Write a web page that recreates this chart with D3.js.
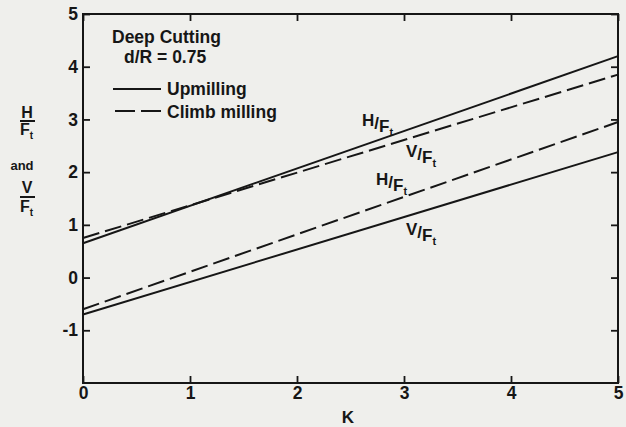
<!DOCTYPE html>
<html>
<head>
<meta charset="utf-8">
<script src="https://cdn.jsdelivr.net/npm/d3@7"></script>
<style>
  html, body { margin: 0; padding: 0; background: #efefec; }
  svg { display: block; }
  text { font-family: "Liberation Sans", Arial, sans-serif; font-weight: bold; fill: #161616; }
</style>
</head>
<body>
<svg id="chart" width="626" height="427"></svg>
<script>
// Force ratios vs. K for deep cutting (d/R = 0.75); each line is straight, given by its end values
const kValues = [0, 5];
const upH = [0.65, 4.2];      // upmilling, H/Ft
const upV = [-0.70, 2.38];    // upmilling, V/Ft
const climbH = [-0.60, 2.95]; // climb milling, H/Ft
const climbV = [0.75, 3.85];  // climb milling, V/Ft
const xTicks = [0, 1, 2, 3, 4, 5];
const yTicks = [-1, 0, 1, 2, 3, 4, 5];

const svg = d3.select("#chart");
const ink = "#161616";
const plotLeft = 83, plotRight = 618, plotTop = 14, plotBottom = 383;

const x = d3.scaleLinear().domain([0, 5]).range([plotLeft, plotRight]);
const y = d3.scaleLinear().domain([-2, 5]).range([plotBottom, plotTop]);

// Integer labels with a plain hyphen for negatives
const intFmt = d => String(d);

// Axes: ticks point inward on all four sides
function styleAxis(g) {
  g.select(".domain").remove();
  g.selectAll(".tick line").attr("stroke", ink).attr("stroke-width", 1.8);
  g.selectAll(".tick text").style("font-size", "17.5px").attr("fill", ink);
}
svg.append("g").attr("transform", `translate(0,${plotBottom})`)
  .call(d3.axisBottom(x).tickValues(xTicks).tickSize(-7).tickPadding(4).tickFormat(intFmt))
  .call(styleAxis);
svg.append("g").attr("transform", `translate(${plotLeft},0)`)
  .call(d3.axisLeft(y).tickValues(yTicks).tickSize(-7).tickPadding(5).tickFormat(intFmt))
  .call(styleAxis);
svg.append("g").attr("transform", `translate(0,${plotTop})`)
  .call(d3.axisTop(x).tickValues(xTicks).tickSize(-7).tickFormat(""))
  .call(styleAxis);
svg.append("g").attr("transform", `translate(${plotRight},0)`)
  .call(d3.axisRight(y).tickValues(yTicks).tickSize(-7).tickFormat(""))
  .call(styleAxis);

// Frame
svg.append("rect")
  .attr("x", x(0)).attr("y", y(5))
  .attr("width", x(5) - x(0)).attr("height", y(-2) - y(5))
  .attr("fill", "none").attr("stroke", ink).attr("stroke-width", 2);

// Lines
const line = d3.line().x(d => x(d[0])).y(d => y(d[1]));
const series = [
  { v: upH, dash: null },
  { v: upV, dash: null },
  { v: climbH, dash: "17,6" },
  { v: climbV, dash: "17,6" }
];
series.forEach(s => {
  svg.append("path")
    .datum(kValues.map((k, i) => [k, s.v[i]]))
    .attr("d", line)
    .attr("fill", "none")
    .attr("stroke", ink)
    .attr("stroke-width", 2)
    .attr("stroke-dasharray", s.dash);
});

// Ratio labels written as H/F with subscript t
function ratioLabel(sym, px, py) {
  const t = svg.append("text").attr("x", px).attr("y", py).style("font-size", "17px");
  t.append("tspan").text(sym);
  t.append("tspan").attr("dy", 3).text("/");
  t.append("tspan").attr("dy", 3).text("F");
  t.append("tspan").attr("dy", 4).style("font-size", "11px").text("t");
}
ratioLabel("H", 362, 126);
ratioLabel("V", 406, 157);
ratioLabel("H", 376, 185);
ratioLabel("V", 406, 235);

// Legend
svg.append("text").attr("x", 112).attr("y", 43).style("font-size", "17.5px").text("Deep Cutting");
svg.append("text").attr("x", 124).attr("y", 63).style("font-size", "17.5px").text("d/R = 0.75");
svg.append("line").attr("x1", 113).attr("x2", 161).attr("y1", 89).attr("y2", 89)
  .attr("stroke", ink).attr("stroke-width", 2);
svg.append("text").attr("x", 167).attr("y", 95).style("font-size", "17.5px").text("Upmilling");
svg.append("line").attr("x1", 115).attr("x2", 161).attr("y1", 111).attr("y2", 111)
  .attr("stroke", ink).attr("stroke-width", 2).attr("stroke-dasharray", "20,6");
svg.append("text").attr("x", 167).attr("y", 118).style("font-size", "17.5px").text("Climb milling");

// Axis titles
svg.append("text").attr("x", 348).attr("y", 423).attr("text-anchor", "middle")
  .style("font-size", "17px").text("K");

const yt = svg.append("g");
yt.append("text").attr("x", 27).attr("y", 118).attr("text-anchor", "middle").style("font-size", "16px").text("H");
yt.append("line").attr("x1", 20).attr("x2", 35).attr("y1", 121).attr("y2", 121).attr("stroke", ink).attr("stroke-width", 2);
const f1 = yt.append("text").attr("x", 20).attr("y", 135).style("font-size", "16px");
f1.append("tspan").text("F");
f1.append("tspan").attr("dy", 4).style("font-size", "10px").text("t");
yt.append("text").attr("x", 22).attr("y", 170).attr("text-anchor", "middle").style("font-size", "13px").text("and");
yt.append("text").attr("x", 27).attr("y", 193).attr("text-anchor", "middle").style("font-size", "16px").text("V");
yt.append("line").attr("x1", 20).attr("x2", 35).attr("y1", 197).attr("y2", 197).attr("stroke", ink).attr("stroke-width", 2);
const f2 = yt.append("text").attr("x", 20).attr("y", 212).style("font-size", "16px");
f2.append("tspan").text("F");
f2.append("tspan").attr("dy", 4).style("font-size", "10px").text("t");
</script>
</body>
</html>
